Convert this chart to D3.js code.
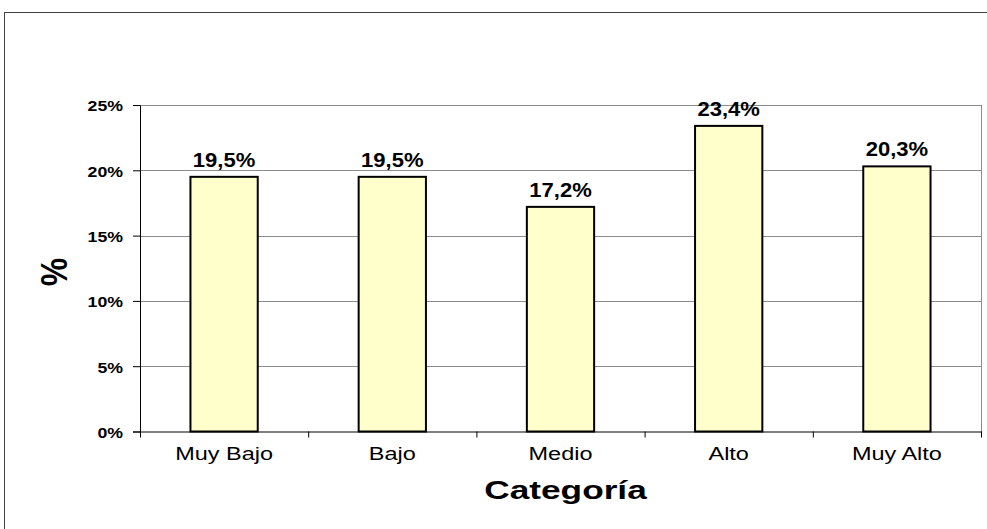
<!DOCTYPE html>
<html><head><meta charset="utf-8">
<script src="https://cdn.jsdelivr.net/npm/d3@7"></script>
<style>body{margin:0;background:#fff}svg{display:block}text{font-family:"Liberation Sans",Arial,sans-serif}</style>
</head><body>
<svg id="c" width="987" height="529"></svg>
<script>
const categories = ["Muy Bajo","Bajo","Medio","Alto","Muy Alto"];
const values = [19.5,19.5,17.2,23.4,20.3];
const yTicks = [0,5,10,15,20,25];
const xTitle = "Categoría";
const yTitle = "%";

const svg = d3.select("#c");
const m = {l:140, r:981, t:105, b:431.5};
// outer frame
svg.append("rect").attr("x",4.5).attr("y",12.5).attr("width",1000).attr("height",600)
  .attr("fill","none").attr("stroke","#404040").attr("stroke-width",1);

const x = d3.scaleBand().domain(categories).range([m.l,m.r]).paddingInner(0.6).paddingOuter(0.3);
const y = d3.scaleLinear().domain([0,25]).range([m.b,m.t]);

// gridlines
svg.append("g").selectAll("line").data(yTicks.filter(d=>d>0)).join("line")
  .attr("x1",m.l).attr("x2",m.r).attr("y1",d=>Math.round(y(d))+0.5).attr("y2",d=>Math.round(y(d))+0.5)
  .attr("stroke","#8c8c8c").attr("stroke-width",1);
// right border of plot
svg.append("line").attr("x1",m.r+0.5).attr("x2",m.r+0.5).attr("y1",m.t).attr("y2",m.b)
  .attr("stroke","#8c8c8c");

// bars
svg.append("g").selectAll("rect").data(values).join("rect")
  .attr("x",(d,i)=>x(categories[i])).attr("width",x.bandwidth())
  .attr("y",d=>y(d)).attr("height",d=>y(0)-y(d))
  .attr("fill","#ffffcc").attr("stroke","#000").attr("stroke-width",2);

// value labels
svg.append("g").selectAll("text").data(values).join("text")
  .attr("transform",(d,i)=>`translate(${x(categories[i])+x.bandwidth()/2},${y(d)-10}) scale(1.13,1)`)
  .attr("text-anchor","middle").attr("font-size",19.5).attr("font-weight","bold").attr("fill","#000")
  .text(d=>d.toFixed(1).replace(".",",")+"%");

// y axis
const ya = d3.axisLeft(y).tickValues(yTicks).tickSize(7).tickPadding(10).tickFormat(d=>d+"%");
const gy = svg.append("g").attr("transform",`translate(${m.l},0)`).call(ya);
gy.select(".domain").attr("stroke","#000");
gy.selectAll(".tick line").attr("stroke","#000");
gy.selectAll("text").attr("x",0).attr("transform","translate(-17,1) scale(1.15,1)")
  .attr("font-size",15.4).attr("font-weight","bold").attr("fill","#000")
  .style("font-family","'Liberation Sans',Arial,sans-serif");

// x axis
const boundaries = d3.range(categories.length+1).map(i=>m.l+i*(m.r-m.l)/categories.length);
svg.append("line").attr("x1",m.l).attr("x2",m.r+1).attr("y1",m.b+0.5).attr("y2",m.b+0.5).attr("stroke","#000");
svg.append("g").selectAll("line").data(boundaries).join("line")
  .attr("x1",d=>d+0.5).attr("x2",d=>d+0.5).attr("y1",m.b).attr("y2",m.b+6).attr("stroke","#000");
svg.append("g").selectAll("text").data(categories).join("text")
  .attr("transform",d=>`translate(${x(d)+x.bandwidth()/2},460) scale(1.27,1)`)
  .attr("text-anchor","middle").attr("font-size",18.5).attr("fill","#000").text(d=>d);

// titles
svg.append("text").attr("transform",`translate(${(m.l+m.r)/2+5},499) scale(1.41,1)`).attr("text-anchor","middle")
  .attr("font-size",25).attr("font-weight","bold").text(xTitle);
svg.append("text").attr("transform",`translate(67,272) scale(1.17,1) rotate(-90)`).attr("text-anchor","middle")
  .attr("font-size",32).attr("font-weight","bold").text(yTitle);
</script>
</body></html>
